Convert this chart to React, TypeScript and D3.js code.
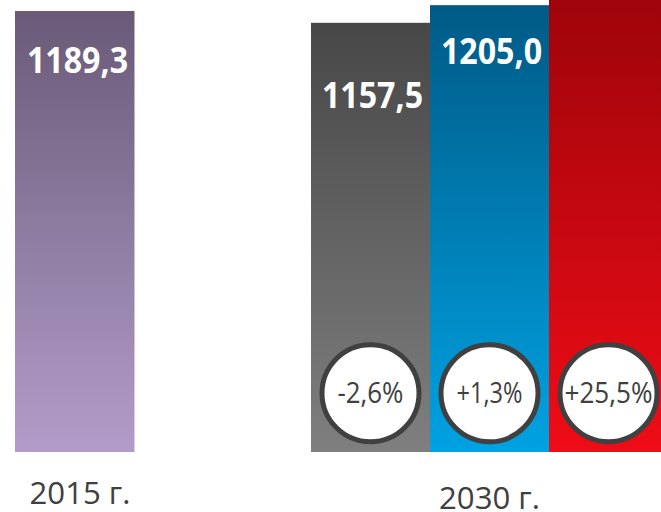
import React from "react";
import * as d3 from "d3";

const W = 661;
const H = 512;

// Values
const groups = ["2015 г.", "2030 г."];
const baseValue = 1189.3;
const scenarioKeys = ["s1", "s2", "s3"];
const scenarioValues = [1157.5, 1205.0, 1492.6];
const scenarioLabels = ["1157,5", "1205,0", ""];
const scenarioChange = ["-2,6%", "+1,3%", "+25,5%"];

const baseGradient = ["#6a5a78", "#b29dca"];
const scenarioGradients = [
  ["#474747", "#7f7f7f"],
  ["#005a86", "#00a2e2"],
  ["#9e040a", "#ef0c16"],
];

// value label offsets below each bar's top (label baseline)
const baseLabelOffset = 62;
const scenarioLabelOffsets = [85, 59, 0];

export default function App() {
  const bottom = 452;
  const y = d3.scaleLinear().domain([0, baseValue]).range([bottom, 11]);

  const groupX = d3.scalePoint<string>().domain(groups).range([74, 489.5]);
  const barW = 119;
  const inner = d3
    .scaleBand<string>()
    .domain(scenarioKeys)
    .range([groupX("2030 г.")! - 1.5 * barW, groupX("2030 г.")! + 1.5 * barW])
    .padding(0);

  const baseX = groupX("2015 г.")! - barW / 2 + 0.5;
  const fmt = (v: number) => d3.format(".1f")(v).replace(".", ",");

  const gradId = (i: number) => `g${i}`;
  const allGrads = [baseGradient, ...scenarioGradients];
  const allTops = [y(baseValue), ...scenarioValues.map((v) => y(v))];

  return (
    <svg
      width={W}
      height={H}
      style={{ position: "absolute", left: 0, top: 0, display: "block", background: "#fff" }}
      fontFamily="'Open Sans', 'Noto Sans', sans-serif"
    >
      <defs>
        {allGrads.map((g, i) => (
          <linearGradient
            key={i}
            id={gradId(i)}
            gradientUnits="userSpaceOnUse"
            x1={0}
            x2={0}
            y1={Math.max(0, allTops[i])}
            y2={bottom}
          >
            <stop offset="0" stopColor={g[0]} />
            <stop offset="1" stopColor={g[1]} />
          </linearGradient>
        ))}
      </defs>

      {/* 2015 bar */}
      <rect
        x={baseX}
        y={y(baseValue)}
        width={barW + 0.5}
        height={bottom - y(baseValue)}
        fill={`url(#${gradId(0)})`}
      />
      <text
        x={baseX + barW / 2 + 3}
        y={y(baseValue) + baseLabelOffset}
        textAnchor="middle"
        fontWeight={700}
        fontSize={35}
        fill="#fff"
        textLength={101}
        lengthAdjust="spacingAndGlyphs"
      >
        {fmt(baseValue)}
      </text>

      {/* 2030 scenario bars */}
      {scenarioKeys.map((k, i) => {
        const x0 = inner(k)!;
        const bw = inner.bandwidth();
        const top = y(scenarioValues[i]);
        const cx = x0 + bw / 2;
        return (
          <g key={k}>
            <rect x={x0} y={top} width={bw} height={bottom - top} fill={`url(#${gradId(i + 1)})`} />
            {scenarioLabels[i] && (
              <text
                x={cx + 2}
                y={top + scenarioLabelOffsets[i]}
                textAnchor="middle"
                fontWeight={700}
                fontSize={35}
                fill="#fff"
                textLength={101}
                lengthAdjust="spacingAndGlyphs"
              >
                {fmt(scenarioValues[i])}
              </text>
            )}
            <circle cx={cx} cy={393.3} r={48.5} fill="#fff" stroke="#404040" strokeWidth={5} />
            <text
              x={cx}
              y={403}
              textAnchor="middle"
              fontSize={29}
              fill="#404040"
              textLength={scenarioChange[i].length > 5 ? 88 : 66}
              lengthAdjust="spacingAndGlyphs"
            >
              {scenarioChange[i]}
            </text>
          </g>
        );
      })}

      {/* group labels */}
      <text
        x={groupX("2015 г.")! + 6}
        y={504}
        textAnchor="middle"
        fontSize={31}
        fill="#404040"
        textLength={101}
        lengthAdjust="spacingAndGlyphs"
      >
        {groups[0]}
      </text>
      <text
        x={groupX("2030 г.")!}
        y={509}
        textAnchor="middle"
        fontSize={31}
        fill="#404040"
        textLength={101}
        lengthAdjust="spacingAndGlyphs"
      >
        {groups[1]}
      </text>
    </svg>
  );
}
